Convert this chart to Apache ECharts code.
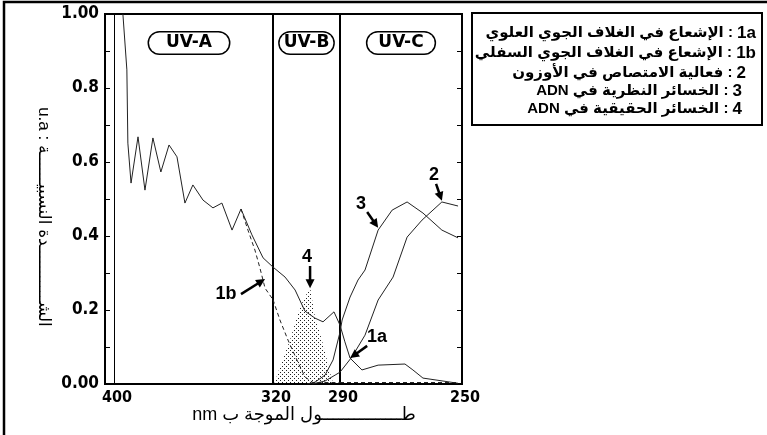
<!DOCTYPE html>
<html>
<head>
<meta charset="utf-8">
<script src="https://cdn.jsdelivr.net/npm/echarts@6/dist/echarts.min.js"></script>
<style>
  html, body { margin: 0; padding: 0; background: #fff; }
  #chart { width: 767px; height: 435px; }
</style>
</head>
<body>
<div id="chart"></div>
<script>
// [wavelength nm, relative intensity]
const irradianceTop = [
  [395.5, 1.0], [393.5, 0.849], [393.0, 0.651], [391.4, 0.543], [387.9, 0.668],
  [384.4, 0.524], [380.4, 0.665], [376.4, 0.573], [372.3, 0.646], [368.3, 0.614],
  [364.3, 0.489], [360.3, 0.538], [355.2, 0.497], [350.2, 0.476], [345.7, 0.489],
  [340.6, 0.416], [336.1, 0.473], [330.6, 0.403], [325.0, 0.341], [320.0, 0.316],
  [314.6, 0.289], [310.1, 0.254], [305.7, 0.197], [301.2, 0.178], [297.6, 0.168],
  [292.7, 0.195], [290.0, 0.159], [288.4, 0.114], [286.7, 0.070], [282.8, 0.038],
  [277.5, 0.051], [268.7, 0.054], [266.1, 0.038], [262.8, 0.016], [251.3, 0.002]
]
const irradianceGround = [
  [336.1, 0.473], [332.6, 0.416], [329.1, 0.362], [326.6, 0.314], [324.0, 0.259],
  [320.0, 0.228], [316.9, 0.173], [313.3, 0.119], [309.3, 0.065], [305.7, 0.019],
  [302.1, 0.004], [290.0, 0.004], [251.3, 0.004]
]
const ozoneAbsorption = [
  [302.5, 0], [296.7, 0.008], [292.2, 0.024], [290.0, 0.032], [286.1, 0.073],
  [281.8, 0.132], [277.5, 0.227], [272.6, 0.289], [268.0, 0.397], [263.1, 0.443],
  [256.6, 0.492], [251.3, 0.481]
]
const dnaTheoretical = [
  [304.8, 0], [301.2, 0.005], [296.7, 0.024], [293.1, 0.065], [290.0, 0.14],
  [289.3, 0.173], [286.7, 0.235], [284.1, 0.281], [281.8, 0.308], [277.5, 0.416],
  [272.9, 0.470], [268.0, 0.492], [262.8, 0.462], [256.6, 0.416], [251.3, 0.395]
]
const dnaActual = [
  [319.3, 0.003], [316.9, 0.046], [312.4, 0.119], [307.9, 0.208], [303.4, 0.262],
  [301.2, 0.181], [298.1, 0.119], [295.8, 0.065], [293.6, 0.011], [292.4, 0]
]

const bandNames = ['UV-A', 'UV-B', 'UV-C']
const bandEdges = [404.5, 320, 290, 250]
const xTickValues = [[400], [320, 290], [250]]
const legendKeys = ['1a', '1b', '2', '3', '4']
const legendTexts = [
  'الإشعاع في الغلاف الجوي العلوي',
  'الإشعاع في الغلاف الجوي السفلي',
  'فعالية الامتصاص في الأوزون',
  'ADN الخسائر النظرية في',
  'ADN الخسائر الحقيقية في'
]
const xTitle = 'nm طـــــــــــــــول الموجة ب'
const yTitle = 'u.a : الشـــــــــــدة النسبيــــــة'

// annotations: label, band index, [nm, value] of label, arrow start, arrow tip
const notes = [
  ['1b', 0, [343.6, 0.243], [336.1, 0.243], [324.0, 0.284]],
  ['4', 1, [304.8, 0.343], [303.4, 0.319], [303.4, 0.259]],
  ['3', 2, [283.1, 0.486], [281.1, 0.465], [277.5, 0.422]],
  ['2', 2, [259.2, 0.565], [258.5, 0.541], [256.6, 0.495]],
  ['1a', 2, [277.9, 0.127], [281.1, 0.103], [286.7, 0.070]]
]

const chart = echarts.init(document.getElementById('chart'))

const gridX = [105, 273, 340, 462]
const gridTop = 14
const gridH = 370
const numFont = '"Liberation Sans Narrow", "DejaVu Sans Condensed", sans-serif'
const textFont = '"Liberation Sans", "DejaVu Sans", sans-serif'

// stipple texture for the real DNA damage area
const dots = document.createElement('canvas')
dots.width = 4
dots.height = 4
const dctx = dots.getContext('2d')
dctx.fillStyle = '#222'
dctx.fillRect(0, 0, 1, 1)
dctx.fillRect(2, 2, 1, 1)

const grids = bandNames.map((b, i) => ({
  left: gridX[i],
  top: gridTop,
  width: gridX[i + 1] - gridX[i],
  height: gridH,
  show: true,
  borderColor: '#000',
  borderWidth: 2,
  backgroundColor: 'transparent'
}))

const xAxes = bandNames.map((b, i) => ({
  type: 'value',
  gridIndex: i,
  inverse: true,
  min: bandEdges[i + 1],
  max: bandEdges[i],
  axisLine: { show: false },
  axisTick: { show: false },
  splitLine: { show: false },
  axisLabel: {
    customValues: xTickValues[i],
    color: '#000',
    fontFamily: numFont,
    fontWeight: 'bold',
    fontSize: 16,
    margin: 6,
    padding: [0, 0, 0, 6]
  }
}))

const yAxes = bandNames.map((b, i) => ({
  type: 'value',
  gridIndex: i,
  min: 0,
  max: 1,
  interval: 0.2,
  show: i !== 1,
  position: i === 2 ? 'right' : 'left',
  axisLine: { show: false },
  splitLine: { show: false },
  axisTick: { show: true, inside: true, length: 5, lineStyle: { color: '#000', width: 1 } },
  minorTick: { show: true, splitNumber: 2, length: 5, lineStyle: { color: '#000', width: 1 } },
  axisLabel: {
    show: i === 0,
    color: '#000',
    fontFamily: numFont,
    fontWeight: 'bold',
    fontSize: 17,
    margin: 6,
    formatter: v => (v === 0 || v === 1) ? v.toFixed(2) : v.toFixed(1)
  }
}))

const inBand = (pts, i) => pts.filter(p => p[0] <= bandEdges[i] + 1e-6 && p[0] >= bandEdges[i + 1] - 1e-6)

const curves = [
  { name: '1a', data: irradianceTop, line: { color: '#222', width: 1 } },
  { name: '1b', data: irradianceGround, line: { color: '#222', width: 1, type: [4, 3] } },
  { name: '2', data: ozoneAbsorption, line: { color: '#222', width: 1 } },
  { name: '3', data: dnaTheoretical, line: { color: '#222', width: 1 } }
]

const series = []
bandNames.forEach((b, i) => {
  curves.forEach(c => {
    const d = inBand(c.data, i)
    if (d.length < 2) return
    series.push({
      name: c.name,
      type: 'line',
      xAxisIndex: i,
      yAxisIndex: i,
      data: d,
      symbol: 'none',
      lineStyle: c.line,
      z: 3
    })
  })
})

series.push({
  name: '4',
  type: 'line',
  xAxisIndex: 1,
  yAxisIndex: 1,
  data: dnaActual,
  symbol: 'none',
  lineStyle: { width: 0 },
  areaStyle: { color: { image: dots, repeat: 'repeat' }, opacity: 1 },
  z: 2
})

// thin vertical rule at 400 nm
series.push({
  type: 'line',
  xAxisIndex: 0,
  yAxisIndex: 0,
  data: [],
  markLine: {
    silent: true,
    symbol: 'none',
    label: { show: false },
    lineStyle: { color: '#000', width: 1, type: 'solid' },
    data: [{ xAxis: 400 }]
  }
})

chart.setOption({
  animation: false,
  backgroundColor: '#fff',
  grid: grids,
  xAxis: xAxes,
  yAxis: yAxes,
  series: series
})

const arrow = (p0, p1) => {
  const dx = p1[0] - p0[0], dy = p1[1] - p0[1]
  const len = Math.hypot(dx, dy)
  const ux = dx / len, uy = dy / len
  const head = 9, half = 4.5
  const bx = p1[0] - ux * head, by = p1[1] - uy * head
  return [
    { type: 'line', shape: { x1: p0[0], y1: p0[1], x2: bx + ux, y2: by + uy }, style: { stroke: '#000', lineWidth: 2.5 }, z: 20 },
    { type: 'polygon', shape: { points: [[p1[0], p1[1]], [bx - uy * half, by + ux * half], [bx + uy * half, by - ux * half]] }, style: { fill: '#000' }, z: 20 }
  ]
}

const graphic = []

// outer frame of the figure
graphic.push({ type: 'rect', shape: { x: 4, y: 2, width: 900, height: 600 }, style: { fill: 'none', stroke: '#000', lineWidth: 2.5 }, z: 10 })

// band name badges
bandNames.forEach((b, i) => {
  graphic.push({
    type: 'text',
    x: (gridX[i] + gridX[i + 1]) / 2,
    y: 43,
    z: 20,
    style: {
      text: b,
      font: 'bold 17px "DejaVu Sans", sans-serif',
      fill: '#000',
      align: 'center',
      verticalAlign: 'middle',
      padding: [2, i === 1 ? 4 : (i === 0 ? 17 : 11)],
      borderColor: '#000',
      borderWidth: 1.5,
      borderRadius: 11,
      backgroundColor: '#fff'
    }
  })
})

// annotations with arrows
notes.forEach(n => {
  const g = { gridIndex: n[1] }
  const t = chart.convertToPixel(g, n[2])
  const a0 = chart.convertToPixel(g, n[3])
  const a1 = chart.convertToPixel(g, n[4])
  graphic.push({
    type: 'text', x: t[0], y: t[1], z: 20,
    style: { text: n[0], font: 'bold 18px "Liberation Sans", sans-serif', fill: '#000', align: 'center', verticalAlign: 'middle' }
  })
  graphic.push(...arrow(a0, a1))
})

// legend box
const legendY = [33, 53, 73, 91, 109]
const legendRight = [756, 756, 746, 742, 742]
graphic.push({ type: 'rect', shape: { x: 472, y: 13, width: 290, height: 112 }, style: { fill: '#fff', stroke: '#000', lineWidth: 2 }, z: 10 })
legendKeys.forEach((k, i) => {
  graphic.push({
    type: 'text', x: legendRight[i], y: legendY[i], z: 11,
    style: {
      text: '{t|' + legendTexts[i] + ' : }{n|' + k + '}',
      align: 'right',
      verticalAlign: 'middle',
      rich: {
        t: { fontFamily: textFont, fontWeight: 'bold', fontSize: 15, fill: '#000' },
        n: { fontFamily: textFont, fontWeight: 'bold', fontSize: 17, fill: '#000' }
      }
    }
  })
})

// axis titles
graphic.push({
  type: 'text', x: 304, y: 415, z: 11,
  style: { text: xTitle, font: '18px "Liberation Sans", "DejaVu Sans", sans-serif', fill: '#000', align: 'center', verticalAlign: 'middle' }
})
graphic.push({
  type: 'text', x: 44, y: 217, rotation: -Math.PI / 2, z: 11,
  style: { text: yTitle, font: '17px "Liberation Sans", "DejaVu Sans", sans-serif', fill: '#000', align: 'center', verticalAlign: 'middle' }
})

chart.setOption({ graphic: graphic })
window.addEventListener('resize', () => chart.resize())
</script>
</body>
</html>
